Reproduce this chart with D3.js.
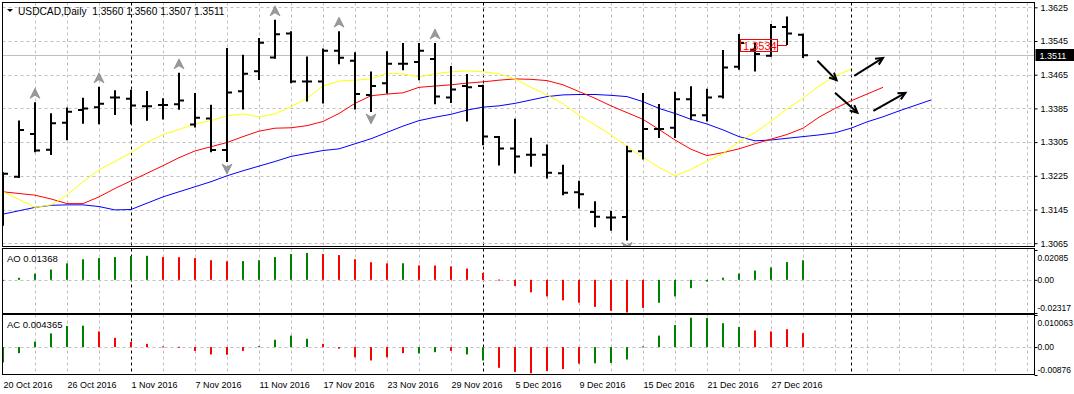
<!DOCTYPE html>
<html>
<head>
<meta charset="utf-8">
<script src="https://cdn.jsdelivr.net/npm/d3@7"></script>
<style>
  body { margin: 0; background: #fff; }
  svg { display: block; font-family: "Liberation Sans", Arial, sans-serif; }
  text { white-space: pre; }
</style>
</head>
<body>
<svg id="chart" width="1074" height="394"></svg>
<script>
// ---- data ----
const title = "USDCAD,Daily  1.3560 1.3560 1.3507 1.3511";

const dates = [
  "2016-10-20","2016-10-21","2016-10-24","2016-10-25","2016-10-26","2016-10-27","2016-10-28","2016-10-31",
  "2016-11-01","2016-11-02","2016-11-03","2016-11-04","2016-11-07","2016-11-08","2016-11-09","2016-11-10",
  "2016-11-11","2016-11-14","2016-11-15","2016-11-16","2016-11-17","2016-11-18","2016-11-21","2016-11-22",
  "2016-11-23","2016-11-24","2016-11-25","2016-11-28","2016-11-29","2016-11-30","2016-12-01","2016-12-02",
  "2016-12-05","2016-12-06","2016-12-07","2016-12-08","2016-12-09","2016-12-12","2016-12-13","2016-12-14",
  "2016-12-15","2016-12-16","2016-12-19","2016-12-20","2016-12-21","2016-12-22","2016-12-23","2016-12-26",
  "2016-12-27","2016-12-28","2016-12-29"
];

const open = [1.3115,1.3223,1.3324,1.3287,1.3351,1.3381,1.3388,1.3411,1.3408,1.3390,
  1.3393,1.3395,1.3347,1.3361,1.3286,1.3426,1.3473,1.3506,1.3563,1.3449,
  1.3449,1.3522,1.3498,1.3417,1.3445,1.3491,1.3495,1.3502,1.3411,1.3438,
  1.3438,1.3317,1.3290,1.3275,1.3275,1.3231,1.3186,1.3139,1.3126,1.3127,
  1.3283,1.3336,1.3339,1.3407,1.3369,1.3413,1.3484,1.3524,1.3510,1.3578,1.3560];
const high = [1.3231,1.3354,1.3397,1.3371,1.3385,1.3408,1.3434,1.3426,1.3427,1.3424,
  1.3407,1.3467,1.3419,1.3391,1.3526,1.3510,1.3550,1.3593,1.3566,1.3506,
  1.3525,1.3566,1.3516,1.3470,1.3518,1.3538,1.3538,1.3538,1.3483,1.3464,
  1.3439,1.3317,1.3358,1.3313,1.3297,1.3249,1.3211,1.3162,1.3139,1.3294,
  1.3419,1.3393,1.3422,1.3435,1.3429,1.3521,1.3559,1.3538,1.3583,1.3601,1.3560];
const low = [1.3109,1.3222,1.3283,1.3277,1.3312,1.3351,1.3350,1.3372,1.3350,1.3358,
  1.3361,1.3384,1.3342,1.3283,1.3260,1.3385,1.3455,1.3505,1.3447,1.3404,
  1.3399,1.3492,1.3385,1.3379,1.3423,1.3478,1.3454,1.3397,1.3400,1.3356,
  1.3300,1.3252,1.3233,1.3249,1.3221,1.3181,1.3150,1.3105,1.3097,1.3074,
  1.3266,1.3317,1.3317,1.3359,1.3356,1.3411,1.3479,1.3475,1.3510,1.3538,1.3507];
const close = [1.3230,1.3334,1.3285,1.3350,1.3377,1.3385,1.3396,1.3411,1.3392,1.3390,
  1.3393,1.3404,1.3363,1.3286,1.3423,1.3467,1.3541,1.3561,1.3449,1.3449,
  1.3522,1.3505,1.3419,1.3438,1.3491,1.3491,1.3522,1.3413,1.3430,1.3435,
  1.3318,1.3290,1.3271,1.3275,1.3232,1.3185,1.3181,1.3128,1.3126,1.3283,
  1.3336,1.3336,1.3407,1.3369,1.3411,1.3482,1.3540,1.3514,1.3578,1.3563,1.3511];

// alligator lines (lips / teeth / jaw), shifted into the future
const lips = [1.3187,1.3169,1.3150,1.3156,1.3179,1.3211,1.3239,1.3259,1.3280,1.3304,
  1.3323,1.3335,1.3348,1.3356,1.3367,1.3372,1.3365,1.3372,1.3389,1.3409,
  1.3438,1.3450,1.3452,1.3455,1.3468,1.3467,1.3460,1.3467,1.3472,1.3474,
  1.3472,1.3467,1.3455,1.3435,1.3417,1.3396,1.3369,1.3346,1.3322,1.3294,
  1.3269,1.3245,1.3225,1.3240,1.3260,1.3278,1.3306,1.3328,1.3354,1.3384,
  1.3409,1.3438,1.3462,1.3478];
const teeth = [1.3187,1.3183,1.3179,1.3170,1.3159,1.3159,1.3175,1.3195,1.3213,1.3231,
  1.3249,1.3268,1.3284,1.3294,1.3304,1.3318,1.3331,1.3338,1.3339,1.3344,
  1.3354,1.3373,1.3397,1.3415,1.3419,1.3422,1.3435,1.3438,1.3441,1.3445,
  1.3448,1.3452,1.3455,1.3454,1.3451,1.3441,1.3425,1.3409,1.3391,1.3375,
  1.3359,1.3335,1.3310,1.3288,1.3273,1.3280,1.3289,1.3301,1.3312,1.3323,
  1.3338,1.3364,1.3385,1.3403,1.3419,1.3435];
const jaw = [1.3134,1.3142,1.3150,1.3155,1.3156,1.3156,1.3152,1.3144,1.3145,1.3160,
  1.3175,1.3187,1.3199,1.3211,1.3225,1.3237,1.3248,1.3259,1.3271,1.3278,
  1.3285,1.3289,1.3301,1.3313,1.3328,1.3343,1.3356,1.3364,1.3371,1.3381,
  1.3388,1.3391,1.3397,1.3405,1.3413,1.3417,1.3418,1.3418,1.3416,1.3413,
  1.3401,1.3385,1.3373,1.3359,1.3348,1.3334,1.3318,1.3308,1.3310,1.3314,
  1.3318,1.3322,1.3327,1.3338,1.3353,1.3365,1.3379,1.3392,1.3405];

const fractalUp = [2, 6, 11, 17, 21, 27];
const fractalDown = [14, 23, 39];

// Awesome Oscillator / Accelerator histograms (u = green, d = red)
const ao = [-0.0002,0.0014,0.0043,0.0072,0.0115,0.0144,0.0152,0.0159,0.0166,0.0168,
  0.0159,0.0158,0.0152,0.0137,0.0130,0.0131,0.0137,0.0159,0.0180,0.0188,
  0.0180,0.0173,0.0144,0.0123,0.0115,0.0116,0.0101,0.0100,0.0094,0.0079,
  0.0048,0.0002,-0.0043,-0.0087,-0.0116,-0.0143,-0.0160,-0.0189,-0.0216,-0.0228,
  -0.0196,-0.0160,-0.0116,-0.0058,-0.0012,0.0015,0.0044,0.0065,0.0087,0.0124,0.01368];
const aoDir = "duuuuuuuuuddddduuuuuddddduddddddddddddddduuuuuuuuuuu";
const ac = [-0.0048,-0.0019,0.0017,0.0043,0.0066,0.0067,0.0049,0.0029,0.0016,0.0010,
  0.0002,0.0001,-0.0012,-0.0023,-0.0024,-0.0012,0.0003,0.0023,0.0036,0.0026,
  0.0010,-0.0005,-0.0032,-0.0042,-0.0032,-0.0019,-0.0020,-0.0016,-0.0012,-0.0023,
  -0.0042,-0.0065,-0.0078,-0.0082,-0.0075,-0.0069,-0.0052,-0.0051,-0.0050,-0.0039,
  0.0002,0.0036,0.0069,0.0092,0.0091,0.0075,0.0063,0.0052,0.0049,0.0056,0.004365];
const acDir = "uuuuuudddddddddduuuudddddduuduudddddduuuuuuuuuudddddud";

const priceTicks = [1.3625, 1.3545, 1.3465, 1.3385, 1.3305, 1.3225, 1.3145, 1.3065];
const aoTicks = [0.02085, 0, -0.02317];
const aoTickLabels = ["0.02085", "0.00", "-0.02317"];
const acTicks = [0.010063, 0, -0.00876];
const acTickLabels = ["0.010063", "0.00", "-0.00876"];
const dateTickIdx = [0, 4, 8, 12, 16, 20, 24, 28, 32, 36, 40, 44, 48];
const dateTickLabels = ["20 Oct 2016","26 Oct 2016","1 Nov 2016","7 Nov 2016","11 Nov 2016",
  "17 Nov 2016","23 Nov 2016","29 Nov 2016","5 Dec 2016","9 Dec 2016","15 Dec 2016",
  "21 Dec 2016","27 Dec 2016"];
const separators = [8, 30, 53];   // month starts (1 Nov, 1 Dec, 1 Jan)

const lastPrice = 1.3511;
const markPrice = 1.3534;
// hand drawn arrows: [bar, price] -> [bar, price]
const arrows = [
  [[50.9, 1.3498], [52.1, 1.3452]],
  [[53.2, 1.3462], [55.0, 1.3505]],
  [[52.0, 1.3422], [53.4, 1.3375]],
  [[54.4, 1.3379], [56.4, 1.3422]]
];

// ---- layout ----
const left = 2.5, right = 1034.5;
const mainP = { top: 2.5, bottom: 246.5 };
const aoP = { top: 248.5, bottom: 313.5 };
const acP = { top: 314.5, bottom: 374.5 };

const x = d3.scaleLinear().domain([0, 64]).range([3, 1027]);
const y = d3.scaleLinear().domain([1.3065, 1.3625]).range([243.2, 7.3]);
const yAO = d3.scaleLinear().domain([-0.02317, 0.02085]).range([313, 250]);
const yAC = d3.scaleLinear().domain([-0.00876, 0.010063]).range([375, 315]);

const svg = d3.select("#chart");
const grey = "#c0c0c0";

svg.append("defs").append("clipPath").attr("id", "clipMain")
  .append("rect").attr("x", left).attr("y", mainP.top)
  .attr("width", right - left).attr("height", mainP.bottom - mainP.top);

// vertical grid + period separators in every panel
const gridIdx = d3.range(2, 65, 2).filter(i => !separators.includes(i));
[mainP, aoP, acP].forEach(p => {
  svg.append("g").selectAll("line").data(gridIdx).join("line")
    .attr("x1", d => x(d) + 0.5).attr("x2", d => x(d) + 0.5)
    .attr("y1", p.top).attr("y2", p.bottom)
    .attr("stroke", grey).attr("stroke-dasharray", "3,3");
  svg.append("g").selectAll("line").data(separators).join("line")
    .attr("x1", d => x(d) + 0.5).attr("x2", d => x(d) + 0.5)
    .attr("y1", p.top).attr("y2", p.bottom)
    .attr("stroke", "#000").attr("stroke-dasharray", "3,3");
});

// horizontal grid
svg.append("g").selectAll("line").data(priceTicks).join("line")
  .attr("x1", left).attr("x2", right)
  .attr("y1", d => Math.round(y(d)) + 0.5).attr("y2", d => Math.round(y(d)) + 0.5)
  .attr("stroke", grey).attr("stroke-dasharray", "3,3");
[yAO, yAC].forEach(s => {
  svg.append("line").attr("x1", left).attr("x2", right)
    .attr("y1", Math.round(s(0)) + 0.5).attr("y2", Math.round(s(0)) + 0.5)
    .attr("stroke", grey).attr("stroke-dasharray", "3,3");
});

// last price line
svg.append("line").attr("x1", left).attr("x2", right)
  .attr("y1", Math.round(y(lastPrice)) + 0.5).attr("y2", Math.round(y(lastPrice)) + 0.5)
  .attr("stroke", grey);

const main = svg.append("g").attr("clip-path", "url(#clipMain)");

// alligator
const line = d3.line().x((d, i) => x(i)).y(d => y(d));
[[jaw, "#0000ff"], [teeth, "#ff0000"], [lips, "#ffff00"]].forEach(([s, c]) => {
  main.append("path").datum(s).attr("d", line)
    .attr("fill", "none").attr("stroke", c).attr("stroke-width", 1);
});

// OHLC bars
const bars = main.append("g").attr("stroke", "#000").attr("stroke-width", 2);
const idx = d3.range(dates.length);
bars.selectAll(".hl").data(idx).join("line")
  .attr("x1", i => x(i)).attr("x2", i => x(i))
  .attr("y1", i => y(high[i]) - 1).attr("y2", i => y(low[i]) + 1);
bars.selectAll(".o").data(idx).join("line")
  .attr("x1", i => x(i) - 5).attr("x2", i => x(i))
  .attr("y1", i => y(open[i])).attr("y2", i => y(open[i]));
bars.selectAll(".c").data(idx).join("line")
  .attr("x1", i => x(i)).attr("x2", i => x(i) + 5)
  .attr("y1", i => y(close[i])).attr("y2", i => y(close[i]));

// fractals
const arrowHead = "M0,-5L5,5L0,2L-5,5Z";
main.selectAll(".fu").data(fractalUp).join("path")
  .attr("d", arrowHead)
  .attr("transform", i => `translate(${x(i)},${y(high[i]) - 10})`)
  .attr("fill", "#9a9a9a").attr("stroke", "#6e7a88").attr("stroke-width", 0.6);
main.selectAll(".fd").data(fractalDown).join("path")
  .attr("d", arrowHead)
  .attr("transform", i => `translate(${x(i)},${y(low[i]) + 8}) rotate(180)`)
  .attr("fill", "#9a9a9a").attr("stroke", "#6e7a88").attr("stroke-width", 0.6);

// price mark box
const my = y(markPrice);
main.append("rect").attr("x", x(49) - 46.5).attr("y", Math.round(my) - 6.5)
  .attr("width", 37).attr("height", 12).attr("fill", "none").attr("stroke", "#ff0000");
main.append("line").attr("x1", x(49) - 9.5).attr("x2", x(49))
  .attr("y1", Math.round(my) - 0.5).attr("y2", Math.round(my) - 0.5).attr("stroke", "#ff0000");
main.append("text").attr("x", x(49) - 44).attr("y", Math.round(my) + 3.5)
  .attr("fill", "#ff0000").style("font-size", "11px").text(markPrice.toFixed(4));

// hand drawn arrows
arrows.forEach(([a, b]) => {
  const x1 = x(a[0]), y1 = y(a[1]), x2 = x(b[0]), y2 = y(b[1]);
  const ang = Math.atan2(y2 - y1, x2 - x1), L = 8;
  const g = main.append("g").attr("stroke", "#000").attr("stroke-width", 2).attr("fill", "none");
  g.append("line").attr("x1", x1).attr("y1", y1).attr("x2", x2).attr("y2", y2);
  g.append("path").attr("d",
    `M${x2 - L * Math.cos(ang - 0.45)},${y2 - L * Math.sin(ang - 0.45)}L${x2},${y2}` +
    `L${x2 - L * Math.cos(ang + 0.45)},${y2 - L * Math.sin(ang + 0.45)}`);
});

// histograms
function hist(data, dir, s) {
  svg.append("g").selectAll("rect").data(data).join("rect")
    .attr("x", (d, i) => x(i) - 1).attr("width", 2)
    .attr("y", d => Math.min(s(d), s(0)))
    .attr("height", d => Math.max(1, Math.abs(s(d) - s(0))))
    .attr("fill", (d, i) => dir[i] === "u" ? "#008000" : "#ff0000");
}
hist(ao, aoDir, yAO);
hist(ac, acDir, yAC);

// panel borders
[mainP, aoP, acP].forEach(p => {
  svg.append("rect").attr("x", left).attr("y", p.top)
    .attr("width", right - left).attr("height", p.bottom - p.top)
    .attr("fill", "none").attr("stroke", "#000");
});

// axes
const axFont = "9px";
const pAxis = svg.append("g").attr("transform", `translate(${right},0)`)
  .call(d3.axisRight(y).tickValues(priceTicks).tickSize(3).tickPadding(3)
    .tickFormat(d3.format(".4f")));
pAxis.select(".domain").remove();
pAxis.selectAll("text").style("font-size", axFont).attr("fill", "#000");

[[yAO, aoTicks, aoTickLabels], [yAC, acTicks, acTickLabels]].forEach(([s, t, lab]) => {
  const g = svg.append("g").attr("transform", `translate(${right},0)`)
    .call(d3.axisRight(s).tickValues(t).tickSize(3).tickPadding(0)
      .tickFormat((d, i) => lab[i]));
  g.select(".domain").remove();
  g.selectAll("text").style("font-size", "8.5px").attr("fill", "#000")
    .attr("dy", (d, i) => i === 0 ? "1.25em" : i === 1 ? "0.32em" : "-0.25em");
});

const tAxis = svg.append("g").attr("transform", "translate(0,388)")
  .call(d3.axisBottom(x).tickValues(dateTickIdx).tickSize(0)
    .tickFormat((d, i) => dateTickLabels[i]));
tAxis.select(".domain").remove();
tAxis.selectAll("text").style("font-size", axFont).attr("fill", "#000")
  .attr("text-anchor", "start").attr("y", 0).attr("dy", 0);

// current price tag
const ly = Math.round(y(lastPrice)) + 0.5;
svg.append("rect").attr("x", right + 1).attr("y", ly - 6.5).attr("width", 39).attr("height", 12)
  .attr("fill", "#000");
svg.append("text").attr("x", right + 5).attr("y", ly + 3.5).attr("fill", "#fff")
  .style("font-size", axFont).text(lastPrice.toFixed(4));

// titles
svg.append("path").attr("d", "M7,9L13,9L10,12Z").attr("fill", "#000");
svg.append("text").attr("x", 18).attr("y", 14.5).style("font-size", "10.2px").text(title);
svg.append("text").attr("x", 7).attr("y", 262).style("font-size", "9.5px")
  .text("AO " + ao[ao.length - 1]);
svg.append("text").attr("x", 7).attr("y", 328).style("font-size", "9.5px")
  .text("AC " + ac[ac.length - 1]);
</script>
</body>
</html>
